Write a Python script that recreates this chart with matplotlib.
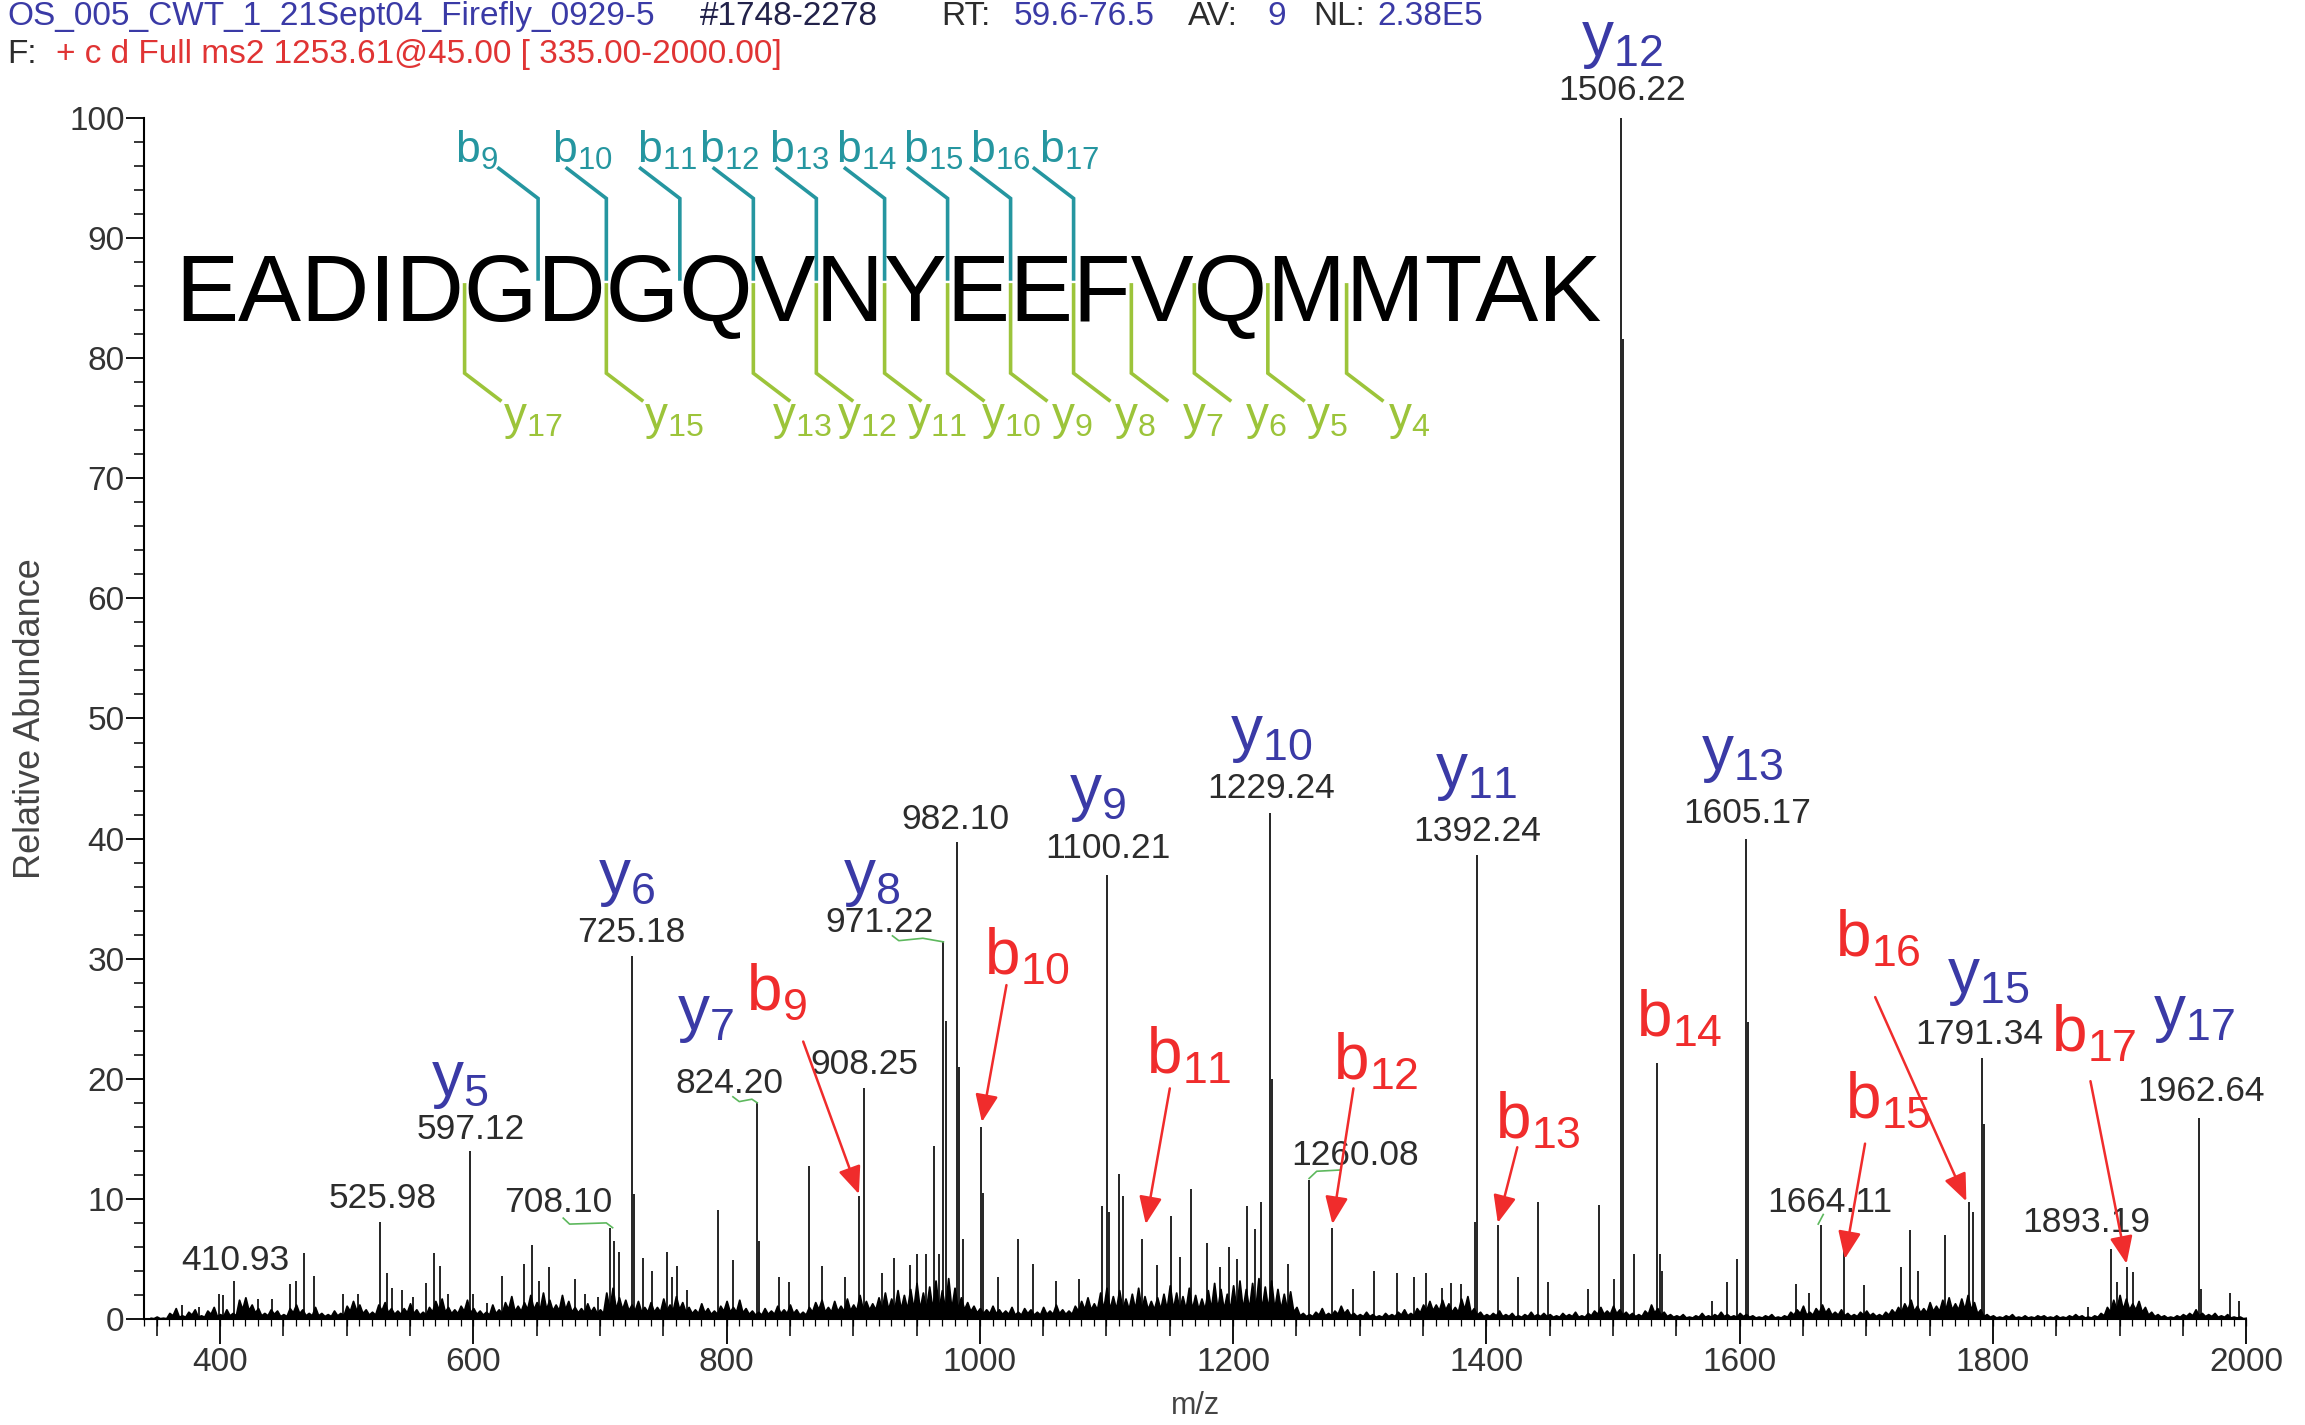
import numpy as np
import matplotlib
matplotlib.use("Agg")
import matplotlib.pyplot as plt
from matplotlib.ticker import MultipleLocator

plt.rcParams['font.family'] = ['Liberation Sans', 'DejaVu Sans']
plt.rcParams['mathtext.fontset'] = 'custom'
plt.rcParams['mathtext.rm'] = 'Liberation Sans'
plt.rcParams['mathtext.it'] = 'Liberation Sans:italic'
plt.rcParams['mathtext.default'] = 'regular'

# ---------------- data ----------------
peptide = "EADIDGDGQVNYEEFVQMMTAK"
b_frags = [9, 10, 11, 12, 13, 14, 15, 16, 17]
y_frags = [17, 15, 13, 12, 11, 10, 9, 8, 7, 6, 5, 4]
b_offset = 3  # b-ion index minus number of residues shown left of the cleavage

peak_mz = [370, 383, 399, 402, 410.93, 430, 441, 455, 460, 466,
           474, 497, 509, 525.98, 531.6, 535.6, 544, 552.5, 563, 568.6,
           574, 580, 597.12, 600, 611, 623, 640, 646, 652, 660,
           680, 688.5, 698.6, 708.10, 710.7, 714.7, 725.18, 726.5, 733.6, 741,
           753, 757, 761, 769, 793, 805, 824.20, 825.4, 841, 849.5,
           865.3, 875, 893.6, 904.5, 908.25, 923, 932, 945, 950.6, 957.5,
           964, 968, 971.22, 973.0, 982.10, 983.4, 987, 1000.9, 1002.4, 1014.6,
           1030.5, 1042, 1060, 1078, 1096.7, 1100.21, 1101.6, 1109.5, 1112.7, 1127.8,
           1140, 1150.6, 1158, 1166.6, 1179, 1190, 1197, 1203, 1211, 1217,
           1222, 1229.24, 1230.8, 1243, 1260.08, 1278.4, 1295,
           1311, 1329.5, 1343, 1352, 1365, 1372, 1380, 1391.0, 1392.24, 1409,
           1425, 1441, 1449, 1480, 1489, 1500.5, 1506.22, 1508.2, 1516.5, 1534.5,
           1537, 1539, 1578, 1590, 1598, 1605.17, 1606.6, 1644.5, 1654.6, 1664.11,
           1682, 1698, 1727, 1734.6, 1740.5, 1762.4, 1780.7, 1784, 1791.34, 1792.6,
           1875, 1893.19, 1898, 1906, 1910.5, 1962.64, 1964, 1987, 1994]
peak_int = [1.2, 1.0, 2.1, 2.0, 3.2, 1.7, 1.7, 2.9, 3.2, 5.5,
            3.6, 2.1, 2.1, 8.1, 3.8, 2.6, 2.4, 1.8, 3.0, 5.5,
            4.4, 2.1, 14.0, 2.1, 1.3, 3.6, 4.6, 6.2, 3.2, 4.3,
            3.3, 2.1, 1.8, 7.6, 6.5, 5.6, 30.2, 10.4, 5.1, 4.0,
            5.6, 3.5, 4.4, 2.4, 9.1, 4.9, 18.1, 6.5, 3.5, 3.1,
            12.7, 4.4, 3.5, 10.2, 19.2, 3.8, 5.1, 4.5, 5.4, 5.4,
            14.4, 5.4, 31.5, 24.8, 39.7, 21.0, 6.7, 16.0, 10.5, 3.5,
            6.7, 4.6, 3.2, 3.3, 9.4, 37.0, 8.9, 12.1, 10.2, 6.7,
            4.5, 8.6, 5.2, 10.8, 6.3, 4.3, 6.0, 5.0, 9.4, 7.5,
            9.7, 42.1, 20.0, 4.6, 11.6, 7.6, 2.5,
            4.0, 3.8, 3.5, 3.8, 2.6, 3.0, 2.9, 8.1, 38.6, 7.8,
            3.5, 9.7, 3.1, 2.5, 9.5, 3.3, 100.0, 81.6, 5.4, 21.3,
            5.4, 4.0, 1.5, 3.1, 5.0, 40.0, 24.7, 2.9, 2.2, 7.8,
            5.8, 2.8, 4.3, 7.4, 4.0, 7.0, 9.7, 8.9, 21.7, 16.2,
            1.0, 5.8, 3.1, 4.3, 3.9, 16.7, 2.5, 2.2, 1.5]

# background "grass" spikes, read every 5 m/z starting at 345
grass_int = [0.1, 0.2, 0.1, 0.5, 0.9, 0.3, 0.6, 0.8, 0.3, 0.7, 1.0, 0.4, 0.8, 0.5, 1.6, 1.8, 1.2, 0.9, 0.5, 0.8,
             0.7, 0.4, 0.9, 1.2, 0.8, 0.5, 1.0, 0.5, 0.4, 0.7, 0.5, 1.1, 1.5, 1.2, 0.8, 0.6, 1.2, 1.4, 0.9, 0.7,
             0.9, 1.3, 0.8, 0.6, 1.0, 1.5, 1.7, 1.0, 0.8, 1.1, 1.6, 0.9, 0.7, 0.6, 1.2, 0.8, 1.4, 1.9, 1.1, 1.4,
             2.0, 1.4, 2.2, 1.6, 1.2, 2.0, 1.5, 1.0, 0.9, 1.3, 1.0, 0.8, 2.2, 2.6, 1.8, 1.6, 1.2, 1.5, 1.0, 1.4,
             1.0, 1.7, 1.2, 1.9, 1.4, 1.0, 0.8, 1.3, 0.9, 0.7, 1.1, 1.5, 1.0, 1.6, 0.9, 0.7, 0.6, 0.9, 0.7, 1.1,
             0.8, 1.2, 0.8, 0.6, 1.0, 1.4, 1.6, 1.0, 1.5, 1.1, 1.7, 1.2, 2.0, 1.5, 1.3, 1.8, 2.2, 1.7, 2.4, 2.0,
             2.5, 3.0, 2.2, 2.7, 3.2, 2.4, 3.4, 2.6, 1.8, 1.4, 1.1, 0.9, 0.8, 1.1, 0.8, 0.7, 1.0, 0.6, 0.9, 0.8,
             0.6, 1.0, 0.7, 1.2, 0.8, 0.7, 1.1, 1.5, 1.8, 1.3, 2.2, 2.6, 1.9, 2.4, 1.7, 2.1, 2.6, 1.9, 1.5, 1.8,
             2.1, 2.8, 2.2, 1.9, 2.6, 2.0, 1.7, 2.4, 3.0, 2.5, 2.1, 2.8, 3.2, 2.5, 3.0, 3.4, 2.7, 3.2, 2.5, 2.1,
             2.3, 1.0, 0.5, 0.4, 0.6, 0.9, 0.5, 0.7, 1.1, 0.8, 0.5, 0.4, 0.6, 0.4, 0.3, 0.5, 0.4, 0.6, 0.8, 0.5,
             0.9, 1.2, 1.5, 1.2, 1.6, 1.3, 1.0, 1.7, 1.9, 0.9, 0.6, 0.4, 0.5, 0.7, 0.4, 0.5, 0.3, 0.4, 0.6, 0.4,
             0.5, 0.4, 0.3, 0.5, 0.4, 0.6, 0.3, 0.5, 0.7, 1.0, 0.7, 1.1, 0.8, 0.6, 0.5, 0.4, 0.7, 1.2, 0.9, 0.6,
             0.4, 0.3, 0.4, 0.2, 0.3, 0.5, 0.3, 0.4, 0.6, 0.4, 0.3, 0.5, 0.4, 0.3, 0.2, 0.3, 0.4, 0.2, 0.3, 0.6,
             0.8, 1.1, 0.6, 0.9, 1.2, 0.9, 0.6, 0.8, 0.5, 0.4, 0.6, 0.7, 0.5, 0.4, 0.6, 0.8, 1.0, 1.3, 1.6, 1.1,
             0.9, 1.4, 1.1, 1.6, 1.8, 1.3, 1.7, 2.0, 1.4, 0.8, 0.4, 0.3, 0.2, 0.3, 0.4, 0.2, 0.3, 0.2, 0.3, 0.3,
             0.2, 0.3, 0.2, 0.3, 0.4, 0.3, 0.2, 0.3, 0.5, 1.0, 1.6, 2.0, 1.7, 1.3, 1.5, 1.0, 0.6, 0.4, 0.3, 0.2,
             0.3, 0.4, 0.5, 0.8, 0.5, 0.4, 0.5, 0.3, 0.4, 0.2, 0.2, 0.1]
grass_floor = 0.8  # upper limit of the baseline noise between the spikes

# m/z labels (value) and where they are written
label_mz = [410.93, 525.98, 597.12, 708.10, 725.18, 824.20, 908.25, 971.22, 982.10, 1100.21,
            1229.24, 1260.08, 1392.24, 1506.22, 1605.17, 1664.11, 1791.34, 1893.19, 1962.64]
label_xy = [(412, 4.9), (528, 10.0), (598, 15.8), (667, 9.7), (725, 32.2), (802, 19.6), (909, 21.2),
            (921, 33.0), (981, 41.6), (1101, 39.2), (1230, 44.2), (1296, 13.6), (1393, 40.6),
            (1507, 102.3), (1606, 42.1), (1671, 9.7), (1789, 23.7), (1874, 8.0), (1964, 18.9)]

# ion assignments on the spectrum
ion_names = ['y12', 'y5', 'y6', 'y7', 'b9', 'y8', 'b10', 'y9', 'y10', 'b11',
             'b12', 'y11', 'b13', 'b14', 'y13', 'b16', 'y15', 'b15', 'b17', 'y17']
ion_xy = [(1507, 106.4), (589.5, 19.8), (721, 36.6), (783.7, 25.3), (839.5, 27.2), (915, 36.6),
          (1037, 30.2), (1093, 43.7), (1230, 48.6), (1165, 21.9), (1313, 21.4), (1392, 45.5),
          (1440.7, 16.5), (1552, 25.0), (1602, 47.0), (1709, 31.7), (1796.5, 28.4), (1717, 18.2),
          (1880, 23.7), (1959, 25.3)]

arrow_start = [(860.5, 23.1), (1021, 27.8), (1150, 19.2), (1295, 19.2), (1424.4, 14.3),
               (1699, 14.6), (1707, 26.8), (1877, 19.8)]
arrow_end = [(904.5, 10.4), (1001.6, 16.4), (1131, 7.9), (1278.4, 7.9), (1409, 8.0),
             (1683, 5.0), (1779, 9.8), (1905.5, 4.6)]

leaders = [[(671, 8.4), (676, 7.9), (705, 8.0), (710, 7.6)],
           [(805, 18.5), (810, 18.1), (820, 18.3), (824.2, 18.0)],
           [(931, 31.9), (936, 31.5), (955, 31.7), (971.2, 31.4)],
           [(1260, 11.7), (1266, 12.3), (1284, 12.4)],
           [(1662, 7.9), (1666, 8.7)]]

# label offsets (in m/z) of the fragment labels around the sequence
b_label_dx = [66, 43, 34, 43, 37, 38, 35, 32, 27]
y_label_dx = [30, 30, 15, 16, 18, 26, 32, 32, 40, 40, 30, 33]

# ---------------- figure ----------------
BLUE = '#3a3aa6'
RED = '#f02c2c'
TEAL = '#2596a0'
LIME = '#9cc43a'
LEAF = '#5db85d'
GRAY = '#2c2c2c'

fig = plt.figure(figsize=(23.05, 14.25), dpi=100)
ax = fig.add_axes([0.0625, 0.0744, 0.9120, 0.8428])
ax.set_xlim(340, 2000)
ax.set_ylim(0, 100)
for s in ['top', 'right']:
    ax.spines[s].set_visible(False)
for s in ['left', 'bottom']:
    ax.spines[s].set_linewidth(1.5)

grass_mz = np.arange(345, 345 + 5 * len(grass_int), 5)[:len(grass_int)]
g = np.asarray(grass_int)
valley = np.minimum(grass_floor, 0.6 * np.minimum(g, np.append(g[1:], g[-1])))
gx = np.empty(2 * len(grass_mz))
gy = np.empty(2 * len(grass_mz))
gx[0::2] = grass_mz
gy[0::2] = g
gx[1::2] = grass_mz + 2.5
gy[1::2] = valley
ax.fill_between(gx, 0, gy, color='black', lw=1.3, zorder=2)
ax.vlines(peak_mz, 0, peak_int, colors='black', lw=1.2, zorder=3)

for mz, (lx, ly) in zip(label_mz, label_xy):
    ax.text(lx, ly, f"{mz:.2f}", ha='center', va='center', fontsize=25.5, color=GRAY, zorder=5)

for pts in leaders:
    xs, ys = zip(*pts)
    ax.plot(xs, ys, color=LEAF, lw=1.2, zorder=4)

for name, (lx, ly) in zip(ion_names, ion_xy):
    col = BLUE if name[0] == 'y' else RED
    ax.text(lx, ly, rf"$\mathregular{{{name[0]}_{{{name[1:]}}}}}$", ha='center', va='center',
            fontsize=46, color=col, zorder=5, clip_on=False)

for (x0, y0), (x1, y1) in zip(arrow_start, arrow_end):
    ax.annotate('', xy=(x1, y1), xytext=(x0, y0),
                arrowprops=dict(arrowstyle='-|>,head_length=0.6,head_width=0.25',
                                color=RED, lw=1.8, mutation_scale=28, shrinkA=0, shrinkB=0),
                zorder=6)

# ---------------- peptide with fragment brackets ----------------
pep_x0, pep_base = 365, 83.1
pep_kw = dict(fontsize=68, family='Liberation Sans', color='black')
ax.text(pep_x0, pep_base, peptide, ha='left', va='baseline', zorder=4, **pep_kw)
renderer = fig.canvas.get_renderer()
inv = ax.transData.inverted()
x0_px = ax.transData.transform((pep_x0, pep_base))[0]


def boundary_x(k):
    t = ax.text(pep_x0, pep_base, peptide[:k], ha='left', va='baseline', **pep_kw)
    w = t.get_window_extent(renderer).width
    t.remove()
    return inv.transform((x0_px + w, 0))[0]


for n, dx in zip(b_frags, b_label_dx):
    xb = boundary_x(n - b_offset)
    ax.plot([xb, xb, xb - 31], [86.6, 93.3, 95.8], color=TEAL, lw=2.6, zorder=6,
            solid_joinstyle='miter')
    ax.text(xb - dx, 96.3, rf"$\mathregular{{b_{{{n}}}}}$", ha='left', va='baseline',
            fontsize=32, color=TEAL, zorder=6)

for n, dx in zip(y_frags, y_label_dx):
    xb = boundary_x(len(peptide) - n)
    ax.plot([xb, xb, xb + 28], [86.1, 78.75, 76.5], color=LIME, lw=2.6, zorder=6,
            solid_joinstyle='miter')
    ax.text(xb + dx, 76.8, rf"$\mathregular{{y_{{{n}}}}}$", ha='left', va='top',
            fontsize=33, color=LIME, zorder=6)

# ---------------- axes styling ----------------
ax.xaxis.set_major_locator(MultipleLocator(200))
ax.xaxis.set_minor_locator(MultipleLocator(50))
ax.yaxis.set_major_locator(MultipleLocator(10))
ax.yaxis.set_minor_locator(MultipleLocator(2))
ax.tick_params(axis='x', which='major', length=18, width=1.3, labelsize=24, pad=2,
               colors='black', labelcolor='#333333')
ax.tick_params(axis='x', which='minor', length=12, width=1.1)
ax.tick_params(axis='y', which='major', length=13, width=1.3, labelsize=24, pad=1,
               labelcolor='#333333')
ax.tick_params(axis='y', which='minor', length=7, width=1.1)
sec = ax.secondary_xaxis('bottom')
sec.xaxis.set_major_locator(MultipleLocator(10))
sec.tick_params(length=5, width=0.9, labelbottom=False)
sec.spines['bottom'].set_visible(False)

ax.set_ylabel('Relative Abundance', fontsize=26, color='#444444')
ax.yaxis.set_label_coords(-0.0457, 0.5)
ax.set_xlabel('m/z', fontsize=22, color='#444444')
ax.xaxis.set_label_coords(0.5, -0.06)

# ---------------- header ----------------
hdr_y1, hdr_y2 = 0.9885, 0.9615
hdr = [("OS_005_CWT_1_21Sept04_Firefly_0929-5", 7, BLUE), ("#1748-2278", 700, '#22224a'),
       ("RT:", 941, GRAY), ("59.6-76.5", 1014, BLUE), ("AV:", 1188, GRAY), ("9", 1267, BLUE),
       ("NL:", 1313, GRAY), ("2.38E5", 1377, BLUE)]
for s, xp, c in hdr:
    fig.text(xp / 2305, hdr_y1, s, ha='left', va='center', fontsize=24, color=c)
fig.text(7 / 2305, hdr_y2, "F:", ha='left', va='center', fontsize=24, color=GRAY)
fig.text(56 / 2305, hdr_y2, "+ c d Full ms2 1253.61@45.00 [ 335.00-2000.00]", ha='left',
         va='center', fontsize=24, color='#e03434')

fig.savefig('out.png', dpi=100)
